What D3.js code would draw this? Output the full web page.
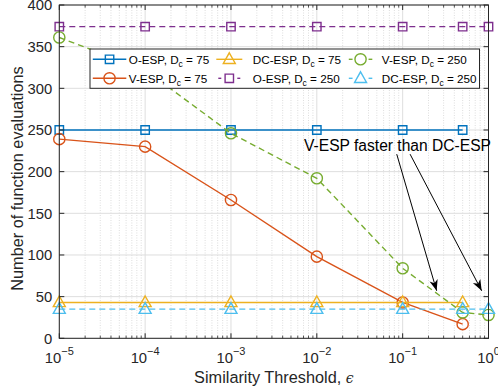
<!DOCTYPE html>
<html>
<head>
<meta charset="utf-8">
<script src="https://cdn.jsdelivr.net/npm/d3@7"></script>
<style>
  body { margin: 0; background: #fff; }
  svg { display: block; font-family: "Liberation Sans", Arial, Helvetica, sans-serif; }
</style>
</head>
<body>
<div class="chart"></div>
<script>
// similarity thresholds (x) and number of function evaluations (y)
const thresholds = [1e-5, 1e-4, 1e-3, 1e-2, 1e-1, 0.5];
const thresholdsFull = [1e-5, 1e-4, 1e-3, 1e-2, 1e-1, 0.5, 1];
const oEsp75 = [250, 250, 250, 250, 250, 250];
const vEsp75 = [239, 230, 166, 98, 43, 17];
const dcEsp75 = [43, 43, 43, 43, 43, 43];
const oEsp250 = [374, 374, 374, 374, 374, 374, 374];
const vEsp250 = [361, 322, 246, 192, 84, 31, 28];
const dcEsp250 = [35, 35, 35, 35, 35, 35, 35];
const xTicks = [1e-5, 1e-4, 1e-3, 1e-2, 1e-1, 1];
const xTickExp = ['-5', '-4', '-3', '-2', '-1', '0'];
const yTicks = [0, 50, 100, 150, 200, 250, 300, 350, 400];

const series = [
  { name: 'O-ESP, D', dc: '75', xs: thresholds, ys: oEsp75, color: '#0072BD', marker: 'square', dash: null },
  { name: 'V-ESP, D', dc: '75', xs: thresholds, ys: vEsp75, color: '#D95319', marker: 'circle', dash: null },
  { name: 'DC-ESP, D', dc: '75', xs: thresholds, ys: dcEsp75, color: '#EDB120', marker: 'triangle', dash: null },
  { name: 'O-ESP, D', dc: '250', xs: thresholdsFull, ys: oEsp250, color: '#7E2F8E', marker: 'square', dash: '6,4' },
  { name: 'V-ESP, D', dc: '250', xs: thresholdsFull, ys: vEsp250, color: '#77AC30', marker: 'circle', dash: '6,4' },
  { name: 'DC-ESP, D', dc: '250', xs: thresholdsFull, ys: dcEsp250, color: '#4DBEEE', marker: 'triangle', dash: '6,4' }
];

const W = 498, H = 392;
const margin = { top: 5, right: 9.5, bottom: 53.7, left: 59.3 };
const width = W - margin.left - margin.right,
  height = H - margin.top - margin.bottom;
const axisColor = '#262626';

const svg = d3.select('.chart').append('svg').attr('width', W).attr('height', H);
const g = svg.append('g').attr('transform', 'translate(' + margin.left + ',' + margin.top + ')');

const x = d3.scaleLog().domain([1e-5, 1]).range([0, width]);
const y = d3.scaleLinear().domain([0, 400]).range([height, 0]);

// minor x grid (dotted)
const minor = [];
for (let e = -5; e < 0; e++) {
  for (let k = 2; k <= 9; k++) minor.push(k * Math.pow(10, e));
}
g.selectAll('.minor-grid').data(minor).enter().append('line')
  .attr('x1', function (d) { return x(d); }).attr('x2', function (d) { return x(d); })
  .attr('y1', 0).attr('y2', height)
  .attr('stroke', '#d4d4d4').attr('stroke-width', 0.8).attr('stroke-dasharray', '1,1.5');

// major grid
g.selectAll('.xgrid').data(xTicks).enter().append('line')
  .attr('x1', function (d) { return x(d); }).attr('x2', function (d) { return x(d); })
  .attr('y1', 0).attr('y2', height)
  .attr('stroke', '#dedede').attr('stroke-width', 1);
g.selectAll('.ygrid').data(yTicks).enter().append('line')
  .attr('x1', 0).attr('x2', width)
  .attr('y1', function (d) { return y(d); }).attr('y2', function (d) { return y(d); })
  .attr('stroke', '#dedede').attr('stroke-width', 1);

// series
const markerPath = function (type) {
  if (type === 'square') return 'M-4.2,-4.2H4.2V4.2H-4.2Z';
  if (type === 'triangle') return 'M0,-6.5L6,4.2H-6Z';
  return d3.arc()({ innerRadius: 0, outerRadius: 5.6, startAngle: 0, endAngle: 2 * Math.PI });
};
const drawMarker = function (sel, s) {
  if (s.marker === 'circle') {
    sel.append('circle').attr('r', 5.6).attr('fill', 'none')
      .attr('stroke', s.color).attr('stroke-width', 1.4);
  } else {
    sel.append('path').attr('d', markerPath(s.marker)).attr('fill', 'none')
      .attr('stroke', s.color).attr('stroke-width', 1.4).attr('stroke-linejoin', 'miter');
  }
};

const line = d3.line()
  .x(function (d) { return x(d[0]); })
  .y(function (d) { return y(d[1]); });

series.forEach(function (s) {
  const pts = s.xs.map(function (v, i) { return [v, s.ys[i]]; });
  g.append('path').datum(pts)
    .attr('d', line)
    .attr('fill', 'none')
    .attr('stroke', s.color)
    .attr('stroke-width', 1.4)
    .attr('stroke-dasharray', s.dash);
  g.selectAll(null).data(pts).enter().append('g')
    .attr('transform', function (d) { return 'translate(' + x(d[0]) + ',' + y(d[1]) + ')'; })
    .each(function () { drawMarker(d3.select(this), s); });
});

// axes box + ticks (inside)
g.append('rect').attr('width', width).attr('height', height)
  .attr('fill', 'none').attr('stroke', axisColor).attr('stroke-width', 1);

g.selectAll('.xt').data(xTicks).enter().append('path')
  .attr('d', function (d) { return 'M' + x(d) + ',' + height + 'v-5M' + x(d) + ',0v5'; })
  .attr('stroke', axisColor);
g.selectAll('.xmt').data(minor).enter().append('path')
  .attr('d', function (d) { return 'M' + x(d) + ',' + height + 'v-2.6M' + x(d) + ',0v2.6'; })
  .attr('stroke', axisColor).attr('stroke-width', 0.8);
g.selectAll('.yt').data(yTicks).enter().append('path')
  .attr('d', function (d) { return 'M0,' + y(d) + 'h5M' + width + ',' + y(d) + 'h-5'; })
  .attr('stroke', axisColor);

// tick labels
g.selectAll('.ylab').data(yTicks).enter().append('text')
  .attr('x', -7).attr('y', function (d) { return y(d); })
  .attr('dy', '0.36em')
  .attr('text-anchor', 'end')
  .attr('font-size', 14.8).attr('fill', axisColor)
  .text(function (d) { return d; });

const xl = g.selectAll('.xlab').data(xTicks).enter().append('text')
  .attr('x', function (d) { return x(d); }).attr('y', height + 24.5)
  .attr('text-anchor', 'middle')
  .attr('font-size', 14.8).attr('fill', axisColor);
xl.append('tspan').text('10');
xl.append('tspan').attr('dy', -8).attr('font-size', 11)
  .text(function (d, i) { return xTickExp[i] === '0' ? '0' : '\u2212' + xTickExp[i].slice(1); });

// axis titles
g.append('text')
  .attr('x', width / 2).attr('y', height + 44.5)
  .attr('text-anchor', 'middle').attr('font-size', 16.3).attr('fill', axisColor)
  .text('Similarity Threshold, ')
  .append('tspan').attr('font-style', 'italic').attr('font-family', '"DejaVu Serif", serif').attr('font-size', 14).text('\u03f5');
g.append('text')
  .attr('transform', 'translate(' + (23 - margin.left) + ',' + (178.5 - margin.top) + ') rotate(-90)')
  .attr('text-anchor', 'middle').attr('font-size', 16.3).attr('fill', axisColor)
  .text('Number of function evaluations');

// legend
const legendBox = { x0: 30.7, y0: 44, w: 389.5, h: 39.3 };
g.append('rect')
  .attr('x', legendBox.x0).attr('y', legendBox.y0)
  .attr('width', legendBox.w).attr('height', legendBox.h)
  .attr('fill', '#fff').attr('stroke', axisColor).attr('stroke-width', 1);
const legCols = [
  { l: 33.5, r: 67, t: 69.5 },
  { l: 157, r: 183, t: 193.5 },
  { l: 287.5, r: 315, t: 322.5 }
];
const legRows = [54.3, 73.3];
const legOrder = [0, 2, 4, 1, 3, 5];
legOrder.forEach(function (si, k) {
  const s = series[si];
  const c = legCols[k % 3], ry = legRows[Math.floor(k / 3)];
  const cx = (c.l + c.r) / 2;
  if (s.dash) {
    g.append('line').attr('x1', c.l + 2).attr('x2', cx - 8).attr('y1', ry).attr('y2', ry)
      .attr('stroke', s.color).attr('stroke-width', 1.4);
    g.append('line').attr('x1', cx + 8).attr('x2', c.r - 2).attr('y1', ry).attr('y2', ry)
      .attr('stroke', s.color).attr('stroke-width', 1.4);
  } else {
    g.append('line').attr('x1', c.l).attr('x2', c.r).attr('y1', ry).attr('y2', ry)
      .attr('stroke', s.color).attr('stroke-width', 1.4);
  }
  drawMarker(g.append('g').attr('transform', 'translate(' + cx + ',' + ry + ')'), s);
  const t = g.append('text').attr('x', c.t).attr('y', ry + 4.2)
    .attr('font-size', 11.7).attr('fill', '#000');
  t.append('tspan').text(s.name);
  t.append('tspan').attr('dy', 3).attr('font-size', 8.5).text('c');
  t.append('tspan').attr('dy', -3).text(' = ' + s.dc);
});

// annotation
const note = { text: 'V-ESP faster than DC-ESP', x: 0.0071, y: 225 };
const arrows = [
  { from: [0.0853, 221], to: [0.249, 57] },
  { from: [0.122, 221], to: [0.833, 57] }
];
g.append('text')
  .attr('x', x(note.x)).attr('y', y(note.y))
  .attr('font-size', 15.6).attr('fill', '#000')
  .text(note.text);
arrows.forEach(function (a) {
  const x1 = x(a.from[0]), y1 = y(a.from[1]), x2 = x(a.to[0]), y2 = y(a.to[1]);
  const ang = Math.atan2(y2 - y1, x2 - x1) * 180 / Math.PI;
  g.append('line').attr('x1', x1).attr('y1', y1).attr('x2', x2).attr('y2', y2)
    .attr('stroke', '#000').attr('stroke-width', 1);
  g.append('path')
    .attr('d', 'M0,0L-11,-4.2L-8,0L-11,4.2Z')
    .attr('transform', 'translate(' + x2 + ',' + y2 + ') rotate(' + ang + ')')
    .attr('fill', '#000');
});
</script>
</body>
</html>
